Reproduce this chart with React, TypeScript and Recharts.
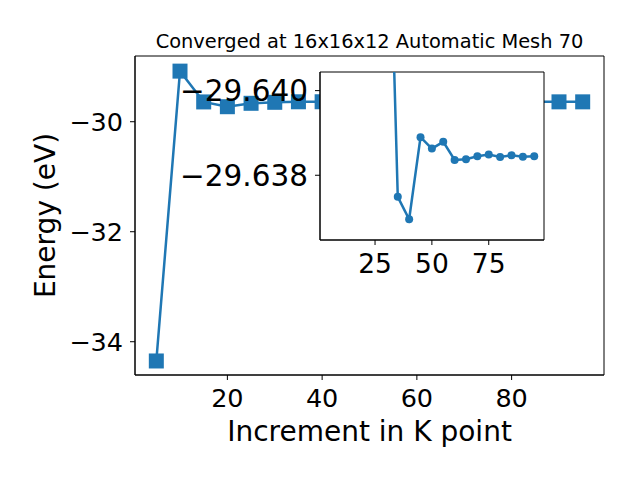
import React from "react";
import { LineChart, Line, XAxis, YAxis, CartesianGrid, ReferenceArea } from "recharts";

// k-point increments and total energy (eV)
const kPoints = [5, 10, 15, 20, 25, 30, 35, 40, 45, 50, 55, 60, 65, 70, 75, 80, 85, 90, 95];
const energy = [
  -34.35, -29.08, -29.64, -29.727, -29.665, -29.647, -29.63749, -29.63696, -29.6389,
  -29.63863, -29.63879, -29.63836, -29.63838, -29.63845, -29.63849, -29.63843,
  -29.63847, -29.63844, -29.63845,
];
const insetFrom = 30;

const mainXTicks = [20, 40, 60, 80];
const mainYTicks = [-30, -32, -34];
const insetXTicks = [25, 50, 75];
const insetYTicks = [-29.64, -29.638];

const mainXDomain = [0.5, 99.5];
const mainYDomain = [-34.605, -28.805];
const insetXDomain = [0.8, 99.3];
const insetYDomain = [-29.64044, -29.63647];

const BLUE = "#1f77b4";
const FONT = "DejaVu Sans";

const mainData = kPoints.map((k, i) => ({ k, e: energy[i] }));
const insetData = mainData.filter((d) => d.k >= insetFrom);

function neg(s: string) {
  return s.replace("-", "\u2212");
}

// eslint-disable-next-line @typescript-eslint/no-explicit-any
function SquareDot(props: any) {
  const { cx, cy, key } = props;
  if (cx == null || cy == null) return <g key={key} />;
  return <rect key={key} x={cx - 7.5} y={cy - 7.5} width={15} height={15} fill={BLUE} />;
}

// eslint-disable-next-line @typescript-eslint/no-explicit-any
function RoundDot(props: any) {
  const { cx, cy, key } = props;
  if (cx == null || cy == null) return <g key={key} />;
  return <circle key={key} cx={cx} cy={cy} r={4} fill={BLUE} />;
}

function xTick(size: number) {
  // eslint-disable-next-line @typescript-eslint/no-explicit-any
  return (props: any) => {
    const { x, y, payload } = props;
    return (
      <text x={x} y={y} dy="0.71em" textAnchor="middle" fontSize={size} fontFamily={FONT} fill="#000">
        {neg(String(payload.value))}
      </text>
    );
  };
}

function yTick(size: number) {
  // eslint-disable-next-line @typescript-eslint/no-explicit-any
  return (props: any) => {
    const { x, y, payload } = props;
    const v = payload.value as number;
    const s = Number.isInteger(v) ? String(v) : v.toFixed(3);
    return (
      <text x={x} y={y} dy="0.355em" textAnchor="end" fontSize={size} fontFamily={FONT} fill="#000">
        {neg(s)}
      </text>
    );
  };
}

export default function App() {
  return (
    <div
      style={{
        position: "absolute",
        left: 0,
        top: 0,
        width: 640,
        height: 480,
        background: "#fff",
        fontFamily: FONT,
      }}
    >
      <LineChart
        width={640}
        height={480}
        data={mainData}
        margin={{ top: 56, right: 36, left: 0, bottom: 0 }}
      >
        <XAxis
          dataKey="k"
          type="number"
          domain={mainXDomain}
          ticks={mainXTicks}
          allowDataOverflow
          height={105}
          stroke="#000"
          tickSize={5}
          tickMargin={9}
          tick={xTick(25.5)}
          // eslint-disable-next-line @typescript-eslint/no-explicit-any
          label={(p: any) => {
            const vb = p.viewBox || { x: 135, y: 375, width: 469 };
            return (
              <text
                x={vb.x + vb.width / 2}
                y={vb.y + 65.7}
                textAnchor="middle"
                fontSize={28}
                fontFamily={FONT}
                fill="#000"
              >
                Increment in K point
              </text>
            );
          }}
        />
        <YAxis
          type="number"
          domain={mainYDomain}
          ticks={mainYTicks}
          allowDataOverflow
          width={135}
          stroke="#000"
          tickSize={5}
          tickMargin={7}
          tick={yTick(25.5)}
          // eslint-disable-next-line @typescript-eslint/no-explicit-any
          label={(p: any) => {
            const vb = p.viewBox || { x: 0, y: 56, width: 135, height: 319 };
            const cx = 55;
            const cy = vb.y + vb.height / 2;
            return (
              <text
                x={cx}
                y={cy}
                transform={`rotate(-90, ${cx}, ${cy})`}
                textAnchor="middle"
                fontSize={28}
                fontFamily={FONT}
                fill="#000"
              >
                Energy (eV)
              </text>
            );
          }}
        />
        <ReferenceArea
          x1={mainXDomain[0]}
          x2={mainXDomain[1]}
          y1={mainYDomain[0]}
          y2={mainYDomain[1]}
          fill="none"
          fillOpacity={0}
          stroke="#000"
          strokeWidth={1}
          ifOverflow="visible"
        />
        <Line
          dataKey="e"
          stroke={BLUE}
          strokeWidth={2.5}
          dot={SquareDot}
          activeDot={false}
          isAnimationActive={false}
        />
      </LineChart>

      <svg width={640} height={60} style={{ position: "absolute", left: 0, top: 0 }}>
        <text x={369.5} y={48} textAnchor="middle" fontSize={19.4} fontFamily={FONT} fill="#000">
          Converged at 16x16x12 Automatic Mesh 70
        </text>
      </svg>

      <div style={{ position: "absolute", left: 170, top: 62 }}>
        <LineChart
          width={380}
          height={220}
          data={insetData}
          margin={{ top: 10, right: 6, left: 0, bottom: 0 }}
        >
          <CartesianGrid fill="#fff" horizontal={false} vertical={false} />
          <XAxis
            dataKey="k"
            type="number"
            domain={insetXDomain}
            ticks={insetXTicks}
            allowDataOverflow
            height={42}
            stroke="#000"
            tickSize={5}
            tickMargin={9}
            tick={xTick(26.5)}
          />
          <YAxis
            type="number"
            domain={insetYDomain}
            reversed
            ticks={insetYTicks}
            allowDataOverflow
            width={150}
            stroke="#000"
            tickSize={5}
            tickMargin={7}
            tick={yTick(29.5)}
          />
          <ReferenceArea
            x1={insetXDomain[0]}
            x2={insetXDomain[1]}
            y1={insetYDomain[0]}
            y2={insetYDomain[1]}
            fill="none"
            fillOpacity={0}
            stroke="#000"
            strokeWidth={1}
            ifOverflow="visible"
          />
          <Line
            dataKey="e"
            stroke={BLUE}
            strokeWidth={2.5}
            dot={RoundDot}
            activeDot={false}
            isAnimationActive={false}
          />
        </LineChart>
      </div>
    </div>
  );
}
